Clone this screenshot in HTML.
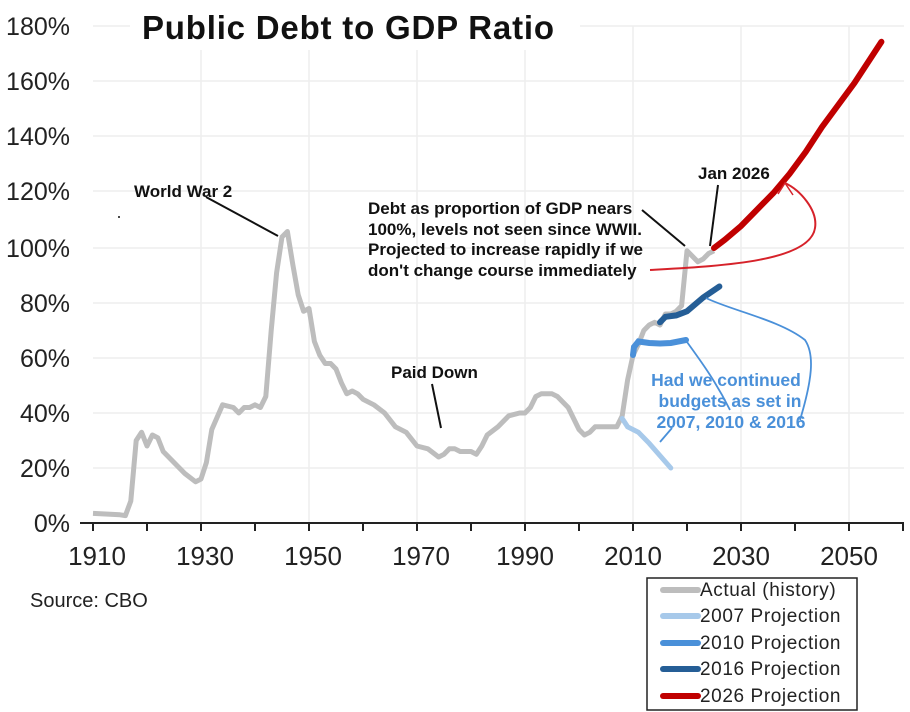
<!DOCTYPE html>
<html><head><meta charset="utf-8"><style>
body{margin:0;background:#fff}
svg{display:block}
.yl{font:25px "Liberation Sans",sans-serif;fill:#222;text-anchor:end}
.xl{font:26px "Liberation Sans",sans-serif;fill:#222;text-anchor:middle}
.an{font:bold 17px "Liberation Sans Narrow","Liberation Sans",sans-serif;fill:#111}
.lg{font:19px "Liberation Sans",sans-serif;fill:#222;letter-spacing:0.6px}
</style></head><body>
<svg width="910" height="712" viewBox="0 0 910 712">
<g stroke="#eee" stroke-width="1.5">
<line x1="93" y1="26" x2="904" y2="26"/><line x1="93" y1="81" x2="904" y2="81"/><line x1="93" y1="136" x2="904" y2="136"/><line x1="93" y1="191" x2="904" y2="191"/><line x1="93" y1="248" x2="904" y2="248"/><line x1="93" y1="303" x2="904" y2="303"/><line x1="93" y1="358" x2="904" y2="358"/><line x1="93" y1="413" x2="904" y2="413"/><line x1="93" y1="468" x2="904" y2="468"/>
<line x1="201" y1="26" x2="201" y2="523"/><line x1="309" y1="26" x2="309" y2="523"/><line x1="417" y1="26" x2="417" y2="523"/><line x1="525" y1="26" x2="525" y2="523"/><line x1="633" y1="26" x2="633" y2="523"/><line x1="741" y1="26" x2="741" y2="523"/><line x1="849" y1="26" x2="849" y2="523"/>
</g>
<rect x="130" y="10" width="450" height="40" fill="#fff"/>
<g class="yl"><text x="70" y="35">180%</text><text x="70" y="90">160%</text><text x="70" y="145">140%</text><text x="70" y="200">120%</text><text x="70" y="257">100%</text><text x="70" y="312">80%</text><text x="70" y="367">60%</text><text x="70" y="422">40%</text><text x="70" y="477">20%</text><text x="70" y="532">0%</text></g>
<line x1="80" y1="523" x2="904" y2="523" stroke="#222" stroke-width="2"/>
<g stroke="#222" stroke-width="2"><line x1="93" y1="523" x2="93" y2="531"/><line x1="147" y1="523" x2="147" y2="531"/><line x1="201" y1="523" x2="201" y2="531"/><line x1="255" y1="523" x2="255" y2="531"/><line x1="309" y1="523" x2="309" y2="531"/><line x1="363" y1="523" x2="363" y2="531"/><line x1="417" y1="523" x2="417" y2="531"/><line x1="471" y1="523" x2="471" y2="531"/><line x1="525" y1="523" x2="525" y2="531"/><line x1="579" y1="523" x2="579" y2="531"/><line x1="633" y1="523" x2="633" y2="531"/><line x1="687" y1="523" x2="687" y2="531"/><line x1="741" y1="523" x2="741" y2="531"/><line x1="795" y1="523" x2="795" y2="531"/><line x1="849" y1="523" x2="849" y2="531"/><line x1="903" y1="523" x2="903" y2="531"/></g>
<g class="xl"><text x="97" y="565">1910</text><text x="205" y="565">1930</text><text x="313" y="565">1950</text><text x="421" y="565">1970</text><text x="525" y="565">1990</text><text x="633" y="565">2010</text><text x="741" y="565">2030</text><text x="849" y="565">2050</text></g>
<text x="142" y="39" style="font:bold 33px 'Liberation Sans',sans-serif;fill:#111;letter-spacing:0.8px">Public Debt to GDP Ratio</text>
<text x="30" y="607" style="font:20px 'Liberation Sans',sans-serif;fill:#222">Source: CBO</text>
<polyline fill="none" stroke="#bdbdbd" stroke-width="5" stroke-linejoin="round" points="93,513.4 120,514.8 125.4,515.6 130.8,501 136.2,440.5 141.6,432.3 147,446 152.4,435 157.8,437.8 163.2,451.5 174,462.5 184.8,473.5 195.6,481.8 201,479 206.4,462.5 211.8,429.5 222.6,404.8 233.4,407.5 238.8,413 244.2,407.5 249.6,407.5 255,404.8 260.4,407.5 265.8,396.5 271.2,330.5 276.6,272.8 282,237 287.4,231.5 292.8,264.5 298.2,294.8 303.6,311.3 309,308.5 314.4,341.5 319.8,355.3 325.2,363.5 330.6,363.5 336,369 341.4,382.8 346.8,393.8 352.2,391 357.6,393.8 363,399.3 373.8,404.8 384.6,413 395.4,426.8 406.2,432.3 417,446 427.8,448.8 438.6,457 444,454.3 449.4,448.8 454.8,448.8 460.2,451.5 471,451.5 476.4,454.3 481.8,446 487.2,435 498,426.8 508.8,415.8 519.6,413 525,413 530.4,407.5 535.8,396.5 541.2,393.8 552,393.8 557.4,396.5 568.2,407.5 579,429.5 584.4,435 589.8,432.3 595.2,426.8 600.6,426.8 611.4,426.8 616.8,426.8 622.2,415.8 627.6,380 633,355.3 638.4,344.3 643.8,330.5 649.2,325 654.6,322.3 660,325 665.4,314 670.8,314 676.2,311.3 681.6,305.8 687,250.8 692.4,256.3 697.8,261.8 703.2,259 708.6,253.5 714,250.8"/>
<polyline fill="none" stroke="#a7c9ea" stroke-width="5" stroke-linecap="round" points="622.2,418.5 627.6,426.8 638.4,432.3 649.2,443.3 670.8,468"/>
<polyline fill="none" stroke="#4a90d9" stroke-width="6" stroke-linecap="round" points="633,355 634,347 638.4,341.5 649.2,343 660,343.5 670.8,343 686,340"/>
<polyline fill="none" stroke="#255e96" stroke-width="6" stroke-linecap="round" points="660,322.3 665.4,316.8 676.2,315.4 687,311.3 703.2,297.5 719.4,286.5"/>
<polyline fill="none" stroke="#c00000" stroke-width="6" stroke-linecap="round" points="714,248 724.8,239.8 741,226 757.2,209.5 773.4,193 789.6,173.8 805.8,151.8 822,127 838.2,105 854.4,83 870.6,58.3 881.4,41.8"/>
<g class="an">
<text x="134" y="197">World War 2</text>
<text x="391" y="378">Paid Down</text>
<text x="698" y="179">Jan 2026</text>
<text x="368" y="214">Debt as proportion of GDP nears</text>
<text x="368" y="235">100%, levels not seen since WWII.</text>
<text x="368" y="255">Projected to increase rapidly if we</text>
<text x="368" y="276">don't change course immediately</text>
</g>
<g fill="#4a90d9" style="font:bold 17.5px 'Liberation Sans',sans-serif" text-anchor="middle"><text x="726" y="386">Had we continued</text><text x="730" y="407">budgets as set in</text><text x="731" y="428">2007, 2010 &amp; 2016</text></g>
<g stroke="#111" stroke-width="2" fill="none"><line x1="206" y1="197" x2="278" y2="236"/><line x1="432" y1="384" x2="441" y2="428"/><line x1="642" y1="210" x2="685" y2="246"/><line x1="718" y1="185" x2="710" y2="246"/></g>
<path d="M650 270 C720 266 810 262 815 228 C818 210 800 190 785 183" fill="none" stroke="#d6222a" stroke-width="2"/>
<path d="M778 194 L785 183 L793 195" fill="none" stroke="#d6222a" stroke-width="1.5"/>
<g stroke="#4a90d9" stroke-width="1.8" fill="none">
<path d="M706 298 C730 310 780 320 805 340 C815 355 812 380 800 420"/>
<path d="M687 342 C700 360 715 380 730 410"/>
<path d="M672 428 L660 442"/>
</g>
<rect x="647" y="578" width="210" height="132" fill="#fff" stroke="#222" stroke-width="1.5"/>
<g stroke-width="6" stroke-linecap="round"><line x1="663" y1="590" x2="698" y2="590" stroke="#bdbdbd"/><line x1="663" y1="616" x2="698" y2="616" stroke="#a7c9ea"/><line x1="663" y1="643" x2="698" y2="643" stroke="#4a90d9"/><line x1="663" y1="669" x2="698" y2="669" stroke="#255e96"/><line x1="663" y1="696" x2="698" y2="696" stroke="#c00000"/></g>
<g class="lg"><text x="700" y="596">Actual (history)</text><text x="700" y="622">2007 Projection</text><text x="700" y="649">2010 Projection</text><text x="700" y="675">2016 Projection</text><text x="700" y="702">2026 Projection</text></g>
<circle cx="119" cy="217" r="1" fill="#111"/>
</svg>
</body></html>
